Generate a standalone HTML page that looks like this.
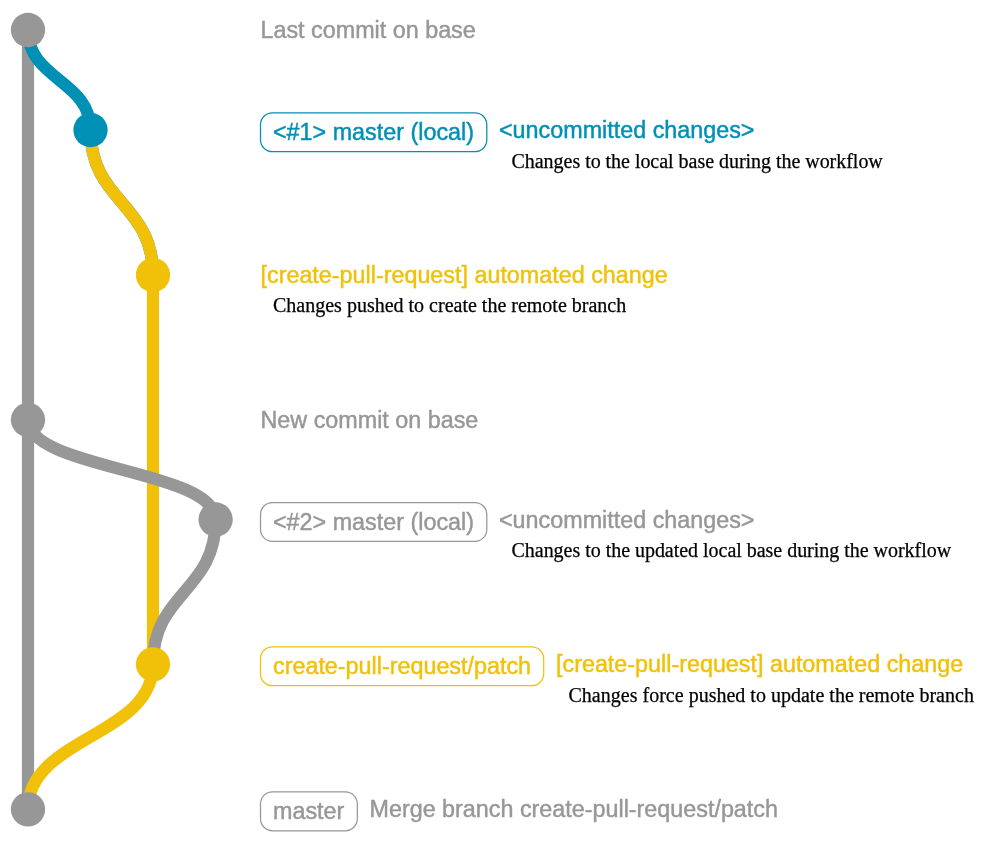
<!DOCTYPE html>
<html>
<head>
<meta charset="utf-8">
<title>create-pull-request workflow graph</title>
<style>
  html, body { margin: 0; padding: 0; background: #ffffff; }
  body { width: 988px; height: 843px; overflow: hidden; }
  svg { display: block; }
  .msg { font-family: "Liberation Sans", sans-serif; font-size: 23.33px; stroke-width: 0.45px; paint-order: stroke fill; }
  .gray.msg { stroke: #979797; } .blue.msg { stroke: #008fb5; } .yellow.msg { stroke: #f1c109; }
  .body { font-family: "Liberation Serif", serif; font-size: 20px; fill: #000000; stroke: #000000; stroke-width: 0.25px; }
  .gray { fill: #979797; }
  .blue { fill: #008fb5; }
  .yellow { fill: #f1c109; }
  .ln { fill: none; stroke-width: 12.2; stroke-linecap: butt; }
  .box { fill: none; stroke-width: 1.25; }
</style>
</head>
<body>
<svg width="988" height="843" viewBox="0 0 988 843">
  <!-- branch lines -->
  <g id="lines">
    <!-- base branch (gray) -->
    <path class="ln" stroke="#979797" d="M28 30 L28 809.3"/>
    <!-- #1 master (local) (blue) -->
    <path class="ln" stroke="#008fb5" d="M28 30 C28 80 90.5 80 90.5 130"/>
    <path class="ln" stroke="#008fb5" d="M90.5 130 C90.5 202.5 153 202.5 153 275"/>
    <!-- create-pull-request/patch (yellow) -->
    <path class="ln" stroke="#f1c109" d="M90.5 130 C90.5 202.5 153 202.5 153 275 L153 664.3 C153 736.8 28 736.8 28 809.3"/>
    <!-- #2 master (local) (gray) -->
    <path class="ln" stroke="#979797" d="M28 419.8 C28 469.65 215.6 469.65 215.6 519.5 C215.6 591.9 153 591.9 153 664.3"/>
  </g>

  <!-- commit dots -->
  <g id="dots">
    <circle cx="28" cy="30" r="17.15" fill="#979797"/>
    <circle cx="90.5" cy="130" r="17.15" fill="#008fb5"/>
    <circle cx="153" cy="275" r="17.15" fill="#f1c109"/>
    <circle cx="28" cy="419.8" r="17.15" fill="#979797"/>
    <circle cx="215.6" cy="519.5" r="17.15" fill="#979797"/>
    <circle cx="153" cy="664.3" r="17.15" fill="#f1c109"/>
    <circle cx="28" cy="809.3" r="17.15" fill="#979797"/>
  </g>

  <g id="labels" style="filter:opacity(0.999)">
  <!-- row 1 -->
  <text class="msg gray" x="260.5" y="37.8">Last commit on base</text>

  <!-- row 2 -->
  <rect class="box" stroke="#008fb5" x="260.5" y="112.8" width="226.3" height="38.9" rx="12" ry="12"/>
  <text class="msg blue" x="273" y="139.6">&lt;#1&gt; master (local)</text>
  <text class="msg blue" x="499" y="137.8">&lt;uncommitted changes&gt;</text>
  <text class="body" x="511.5" y="168.2" textLength="371.3" lengthAdjust="spacing">Changes to the local base during the workflow</text>

  <!-- row 3 -->
  <text class="msg yellow" x="260.5" y="283.0">[create-pull-request] automated change</text>
  <text class="body" x="273" y="311.8">Changes pushed to create the remote branch</text>

  <!-- row 4 -->
  <text class="msg gray" x="260.5" y="428.0">New commit on base</text>

  <!-- row 5 -->
  <rect class="box" stroke="#979797" x="260.5" y="502.5" width="226.3" height="38.9" rx="12" ry="12"/>
  <text class="msg gray" x="273" y="529.8">&lt;#2&gt; master (local)</text>
  <text class="msg gray" x="499" y="528">&lt;uncommitted changes&gt;</text>
  <text class="body" x="511.5" y="557.4" textLength="439.6" lengthAdjust="spacing">Changes to the updated local base during the workflow</text>

  <!-- row 6 -->
  <rect class="box" stroke="#f1c109" x="260.5" y="646.8" width="283.2" height="38.9" rx="12" ry="12"/>
  <text class="msg yellow" x="273" y="673.6">create-pull-request/patch</text>
  <text class="msg yellow" x="556" y="671.8">[create-pull-request] automated change</text>
  <text class="body" x="568.5" y="702.2" textLength="405.4" lengthAdjust="spacing">Changes force pushed to update the remote branch</text>

  <!-- row 7 -->
  <rect class="box" stroke="#979797" x="260.5" y="791.9" width="96.8" height="38.9" rx="12" ry="12"/>
  <text class="msg gray" x="273" y="818.7">master</text>
  <text class="msg gray" x="369.5" y="816.9">Merge branch create-pull-request/patch</text>
  </g>
</svg>
</body>
</html>
